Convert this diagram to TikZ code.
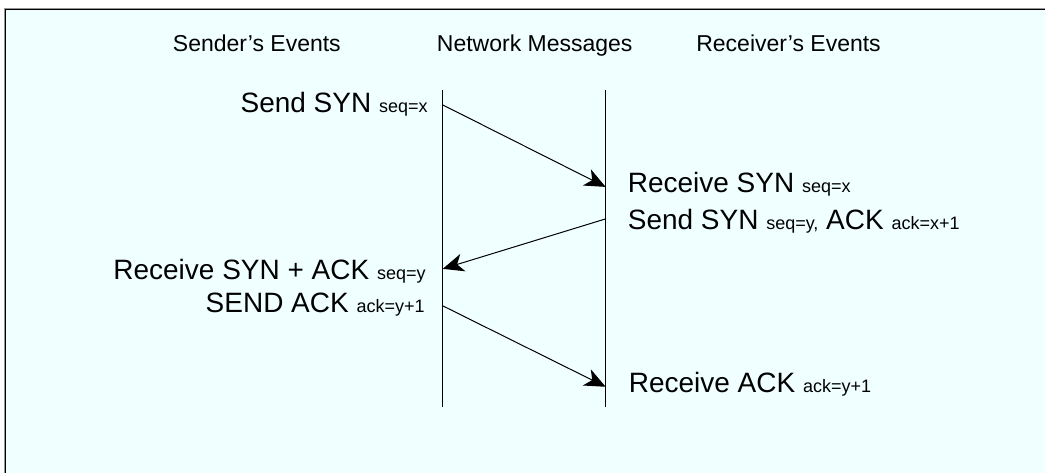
\documentclass[tikz,border=0pt]{standalone}
\usepackage{fontspec}
\setmainfont{Liberation Sans}
\usetikzlibrary{arrows.meta}
\definecolor{bgazure}{RGB}{240,255,255}
\definecolor{framegray}{RGB}{150,150,150}
\newcommand{\subtxt}[1]{{\fontsize{18}{18}\selectfont #1}}
\begin{document}
\begin{tikzpicture}[x=1pt,y=-1pt,
  body/.style={inner sep=0pt, font=\fontsize{28}{30}\selectfont},
  head/.style={inner sep=0pt, font=\fontsize{23}{26}\selectfont},
  msg/.style={-{Stealth[length=21pt,width=18pt,inset=6pt]}, line width=1pt},
  life/.style={line width=1.3pt}]
% background and frame
\fill[white] (0,0) rectangle (1046,473);
\fill[bgazure] (4,8) rectangle (1046,473);
\draw[framegray, line width=1pt] (4,8.5) -- (1046,8.5);
\draw[framegray, line width=1pt] (4.5,8) -- (4.5,473);
\draw[black, line width=1.2pt] (5,9.8) -- (1046,9.8);
\draw[black, line width=1.2pt] (5.8,9) -- (5.8,473);
% headers
\node[head, anchor=base] (hs) at (257,52) {Sender's Events};
\node[head, anchor=base] (hn) at (535,52) {Network Messages};
\node[head, anchor=base] (hr) at (789,52) {Receiver's Events};
% lifelines
\coordinate (Lt) at (443,90);
\coordinate (Lb) at (443,407);
\coordinate (Rt) at (606,90);
\coordinate (Rb) at (606,407);
\draw[life] (Lt) -- (Lb);
\draw[life] (Rt) -- (Rb);
% message points
\coordinate (a1) at (443,105);
\coordinate (b1) at (606,187);
\coordinate (a2) at (606,219);
\coordinate (b2) at (443,269);
\coordinate (a3) at (443,306);
\coordinate (b3) at (606,387);
\draw[msg] (a1) -- (b1);
\draw[msg] (a2) -- (b2);
\draw[msg] (a3) -- (b3);
% event texts
\node[body, anchor=base east] (t1) at (428,113) {Send SYN \subtxt{seq=x}};
\node[body, anchor=base west] (t2) at (628,193) {Receive SYN \subtxt{seq=x}};
\node[body, anchor=base west] (t3) at (628,230) {Send SYN \subtxt{seq=y,} ACK \subtxt{ack=x+1}};
\node[body, anchor=base east] (t4) at (426,280) {Receive SYN + ACK \subtxt{seq=y}};
\node[body, anchor=base east] (t5) at (425,313) {SEND ACK \subtxt{ack=y+1}};
\node[body, anchor=base west] (t6) at (629,393) {Receive ACK \subtxt{ack=y+1}};
\end{tikzpicture}
\end{document}
